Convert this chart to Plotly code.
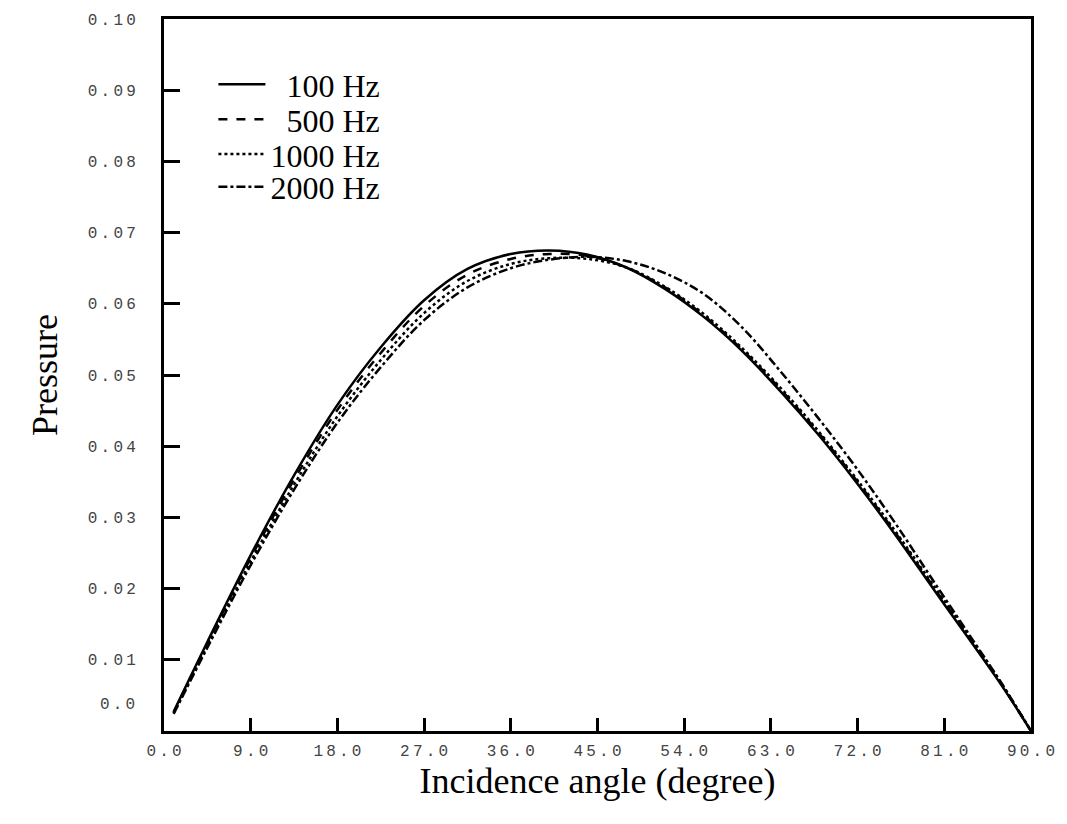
import plotly.graph_objects as go

angle = [1, 4.5, 9, 13.5, 18, 22.5, 27, 31.5, 36, 40, 44, 48, 52, 56, 60, 64, 68, 72, 76, 80, 84, 87, 90]

p_100 = [0.0027, 0.0125, 0.0247, 0.0359, 0.0458, 0.0539, 0.0605, 0.0649, 0.0670, 0.0675, 0.0669, 0.0651,
         0.0621, 0.0582, 0.0534, 0.0477, 0.0415, 0.0347, 0.0274, 0.0197, 0.0121, 0.0063, 0.0]
p_500 = [0.0026, 0.0123, 0.0243, 0.0353, 0.0451, 0.0531, 0.0597, 0.0641, 0.0663, 0.0670, 0.0667, 0.0651,
         0.0623, 0.0584, 0.0536, 0.0480, 0.0418, 0.0350, 0.0277, 0.0200, 0.0123, 0.0064, 0.0]
p_1000 = [0.0025, 0.0120, 0.0238, 0.0346, 0.0442, 0.0521, 0.0587, 0.0632, 0.0656, 0.0664, 0.0663, 0.0651,
          0.0624, 0.0586, 0.0538, 0.0482, 0.0420, 0.0352, 0.0279, 0.0202, 0.0125, 0.0065, 0.0]
p_2000 = [0.0024, 0.0117, 0.0233, 0.0339, 0.0433, 0.0511, 0.0577, 0.0623, 0.0650, 0.0662, 0.0666, 0.0660,
          0.0643, 0.0614, 0.0567, 0.0505, 0.0438, 0.0367, 0.0290, 0.0208, 0.0127, 0.0066, 0.0]

series_names = ["\u2007100 Hz", "\u2007500 Hz", "1000 Hz", "2000 Hz"]
series_vals = [p_100, p_500, p_1000, p_2000]
dashes = ["solid", "dash", "dot", "dashdot"]
legend_ids = ["legend", "legend2", "legend3", "legend4"]
legend_rows = [0.908, 0.859, 0.810, 0.764]

x_ticks = [0, 9, 18, 27, 36, 45, 54, 63, 72, 81, 90]
x_ticktext = ["0.0", "9.0", "18.0", "27.0", "36.0", "45.0", "54.0", "63.0", "72.0", "81.0", "90.0"]
y_ticks = [0.01, 0.02, 0.03, 0.04, 0.05, 0.06, 0.07, 0.08, 0.09, 0.10]
y_ticktext = ["0.01", "0.02", "0.03", "0.04", "0.05", "0.06", "0.07", "0.08", "0.09", "0.10"]


def spaced(s):
    return "\u2009".join(list(s))


fig = go.Figure()
for name, vals, d, lg in zip(series_names, series_vals, dashes, legend_ids):
    fig.add_trace(go.Scatter(x=angle, y=vals, mode="lines", name=name, legend=lg,
                             line=dict(color="black", width=2.5, dash=d, shape="spline", smoothing=1.0)))

mono = dict(family="Liberation Mono, Courier New, monospace", size=16, color="#444")
serif = "Liberation Serif, Times New Roman, serif"

legend_common = dict(x=0.057, xanchor="left", yanchor="middle",
                     font=dict(family=serif, size=32, color="black"),
                     bgcolor="rgba(0,0,0,0)", itemwidth=47)

fig.update_layout(
    width=1067, height=824,
    margin=dict(l=164, r=29, t=15, b=93),
    paper_bgcolor="white", plot_bgcolor="white",
    showlegend=True,
    xaxis=dict(range=[0, 90], tickvals=x_ticks, ticktext=[spaced(t) for t in x_ticktext],
               ticks="inside", ticklen=13, tickwidth=3, tickcolor="black",
               showline=True, linewidth=3, linecolor="black", mirror=True,
               showgrid=False, zeroline=False, tickfont=mono, ticklabelstandoff=3,
               title=dict(text="Incidence angle (degree)", font=dict(family=serif, size=36, color="black"),
                          standoff=6)),
    yaxis=dict(range=[0, 0.10], tickvals=y_ticks, ticktext=[spaced(t) for t in y_ticktext],
               ticks="inside", ticklen=16, tickwidth=3, tickcolor="black",
               showline=True, linewidth=3, linecolor="black", mirror=True,
               showgrid=False, zeroline=False, tickfont=mono, ticklabelstandoff=22,
               title=dict(text="Pressure", font=dict(family=serif, size=36, color="black"),
                          standoff=20)),
)
for lg, yrow in zip(legend_ids, legend_rows):
    fig.update_layout({lg: dict(legend_common, y=yrow)})

fig.add_annotation(text=spaced("0.0"), xref="paper", yref="paper", x=-0.031, y=0.036,
                   xanchor="right", yanchor="middle", showarrow=False, font=mono)

fig.write_html("out.html")
